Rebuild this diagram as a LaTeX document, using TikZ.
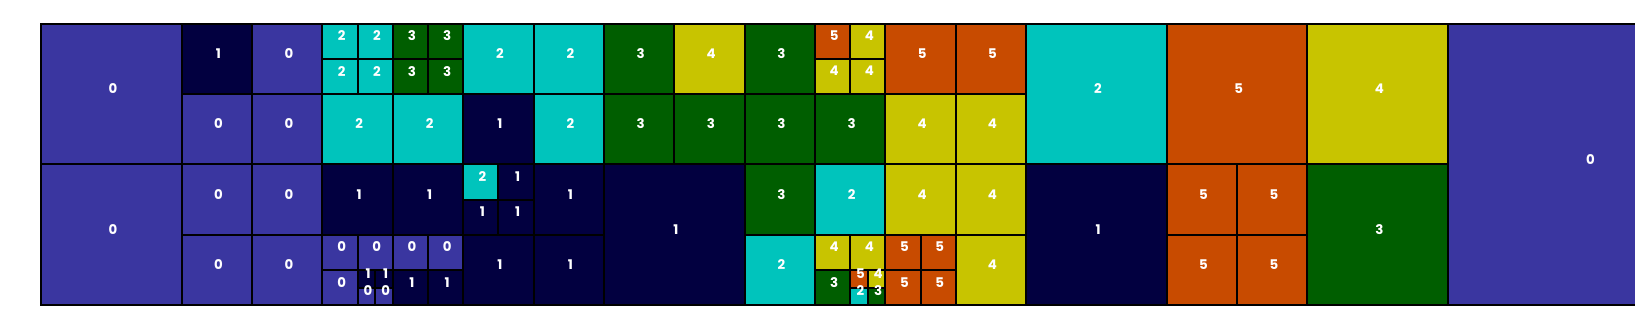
\documentclass[tikz,border=0pt]{standalone}
\usepackage{fontspec}
\setmainfont{Poppins}
\definecolor{v0}{RGB}{58,54,160}
\definecolor{v1}{RGB}{2,0,64}
\definecolor{v2}{RGB}{0,196,188}
\definecolor{v3}{RGB}{0,94,0}
\definecolor{v4}{RGB}{200,196,0}
\definecolor{v5}{RGB}{200,75,0}
\tikzset{
  cellline/.style={draw=black, line width=1.5pt},
  lbl/.style={text=white, font=\fontsize{10}{12}\selectfont\bfseries, inner sep=0pt, xshift=1.2pt, yshift=4pt}
}
\newcommand\cel[4]{%
  \filldraw[cellline, fill=v#4] (#1,#2) rectangle ++(#3,#3);
  \node[lbl] (n-#1-#2) at (#1+#3/2, #2+#3/2) {#4};}
\begin{document}
\begin{tikzpicture}[x=13.19pt, y=-13.19pt]
\useasboundingbox (-2.331,-1.347) rectangle (90.62,17.64);
\clip (-2.331,-1.347) rectangle (90.62,17.64);
% column 0
\cel{0}{0}{8}{0} \cel{0}{8}{8}{0}
% column 1
\cel{8}{0}{4}{1} \cel{12}{0}{4}{0} \cel{8}{4}{4}{0} \cel{12}{4}{4}{0}
\cel{8}{8}{4}{0} \cel{12}{8}{4}{0} \cel{8}{12}{4}{0} \cel{12}{12}{4}{0}
% column 2
\cel{16}{0}{2}{2} \cel{18}{0}{2}{2} \cel{16}{2}{2}{2} \cel{18}{2}{2}{2}
\cel{20}{0}{2}{3} \cel{22}{0}{2}{3} \cel{20}{2}{2}{3} \cel{22}{2}{2}{3}
\cel{16}{4}{4}{2} \cel{20}{4}{4}{2}
\cel{16}{8}{4}{1} \cel{20}{8}{4}{1}
\cel{16}{12}{2}{0} \cel{18}{12}{2}{0} \cel{16}{14}{2}{0}
\cel{18}{14}{1}{1} \cel{19}{14}{1}{1} \cel{18}{15}{1}{0} \cel{19}{15}{1}{0}
\cel{20}{12}{2}{0} \cel{22}{12}{2}{0} \cel{20}{14}{2}{1} \cel{22}{14}{2}{1}
% column 3
\cel{24}{0}{4}{2} \cel{28}{0}{4}{2} \cel{24}{4}{4}{1} \cel{28}{4}{4}{2}
\cel{24}{8}{2}{2} \cel{26}{8}{2}{1} \cel{24}{10}{2}{1} \cel{26}{10}{2}{1}
\cel{28}{8}{4}{1} \cel{24}{12}{4}{1} \cel{28}{12}{4}{1}
% column 4
\cel{32}{0}{4}{3} \cel{36}{0}{4}{4} \cel{32}{4}{4}{3} \cel{36}{4}{4}{3}
\cel{32}{8}{8}{1}
% column 5
\cel{40}{0}{4}{3} \cel{44}{0}{2}{5} \cel{46}{0}{2}{4} \cel{44}{2}{2}{4} \cel{46}{2}{2}{4}
\cel{40}{4}{4}{3} \cel{44}{4}{4}{3}
\cel{40}{8}{4}{3} \cel{44}{8}{4}{2} \cel{40}{12}{4}{2}
\cel{44}{12}{2}{4} \cel{46}{12}{2}{4} \cel{44}{14}{2}{3}
\cel{46}{14}{1}{5} \cel{47}{14}{1}{4} \cel{46}{15}{1}{2} \cel{47}{15}{1}{3}
% column 6
\cel{48}{0}{4}{5} \cel{52}{0}{4}{5} \cel{48}{4}{4}{4} \cel{52}{4}{4}{4}
\cel{48}{8}{4}{4} \cel{52}{8}{4}{4}
\cel{48}{12}{2}{5} \cel{50}{12}{2}{5} \cel{48}{14}{2}{5} \cel{50}{14}{2}{5}
\cel{52}{12}{4}{4}
% column 7
\cel{56}{0}{8}{2} \cel{56}{8}{8}{1}
% column 8
\cel{64}{0}{8}{5} \cel{64}{8}{4}{5} \cel{68}{8}{4}{5} \cel{64}{12}{4}{5} \cel{68}{12}{4}{5}
% column 9
\cel{72}{0}{8}{4} \cel{72}{8}{8}{3}
% column 10
\cel{80}{0}{16}{0}
\end{tikzpicture}
\end{document}
